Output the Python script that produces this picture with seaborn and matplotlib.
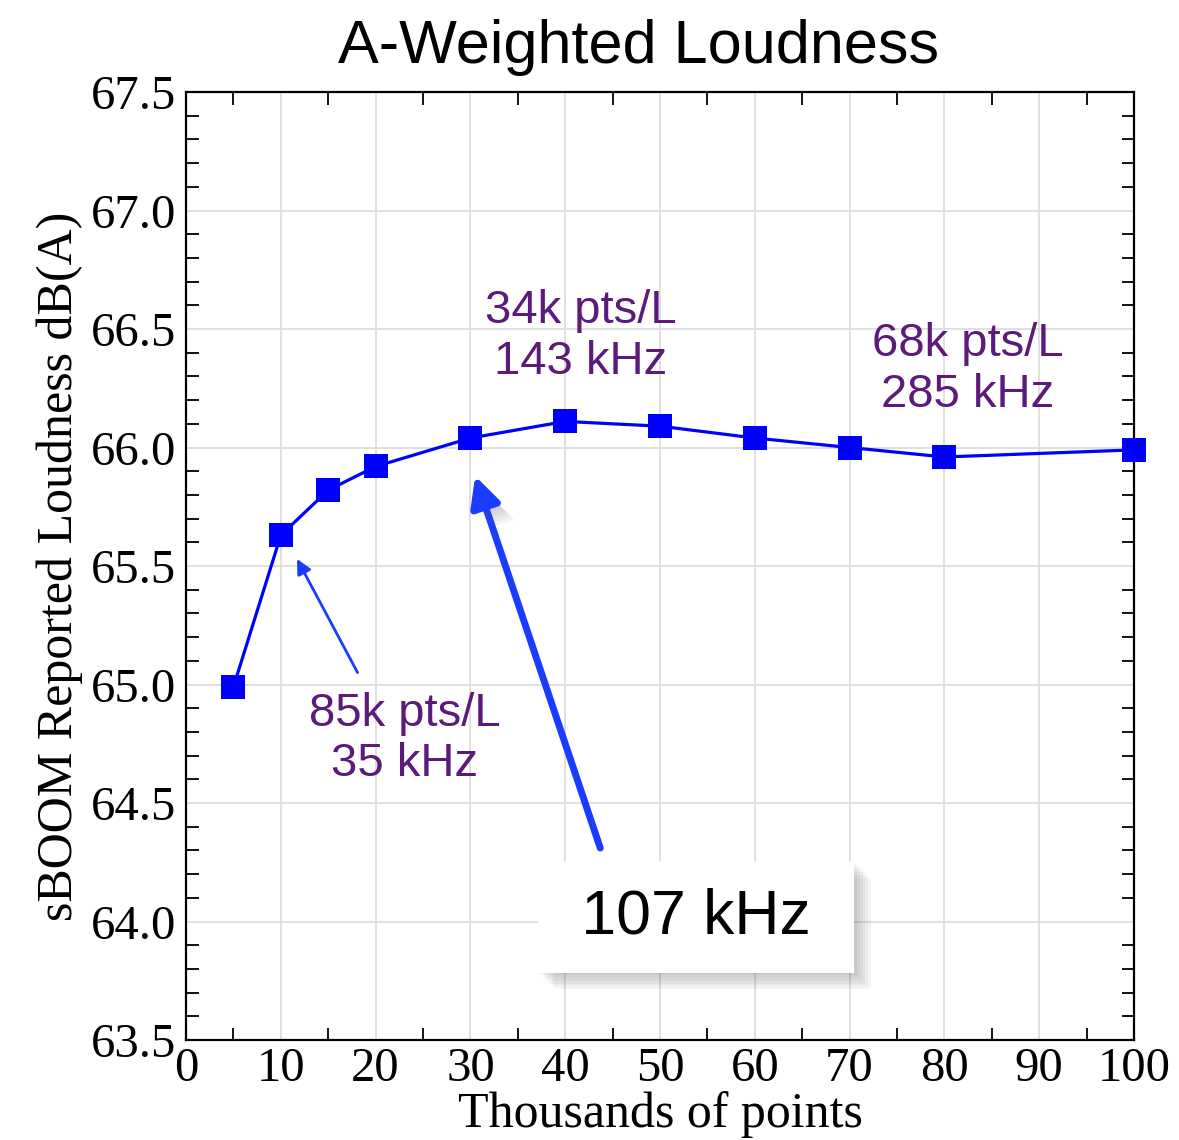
import matplotlib
matplotlib.use("Agg")
import matplotlib.pyplot as plt
import matplotlib.patheffects as pe
from matplotlib.ticker import MultipleLocator, FormatStrFormatter
import pandas as pd
import seaborn as sns

# data
points_k = [5, 10, 15, 20, 30, 40, 50, 60, 70, 80, 100]
loudness_dba = [64.99, 65.63, 65.82, 65.92, 66.04, 66.11, 66.09, 66.04, 66.00, 65.96, 65.99]

labels = ["85k pts/L\n35 kHz", "34k pts/L\n143 kHz", "68k pts/L\n285 kHz"]
label_x = [23.1, 41.6, 82.5]
label_y = [64.77, 66.47, 66.33]

df = pd.DataFrame({"points": points_k, "loudness": loudness_dba})

sns.set_style("ticks")
serif = ["Liberation Serif", "DejaVu Serif"]
sans = ["Liberation Sans", "DejaVu Sans"]
plt.rcParams["font.family"] = serif
plt.rcParams["text.color"] = "black"
plt.rcParams["axes.labelcolor"] = "black"


def soft_shadow(step=2, n=5, alpha=0.07):
    # crude blurred shadow: several offset copies with low alpha
    effects = [pe.SimplePatchShadow(offset=(step * i, -step * i),
                                    shadow_rgbFace="#555555", alpha=alpha)
               for i in range(1, n + 1)]
    return effects + [pe.Normal()]


fig = plt.figure(figsize=(11.79, 11.40), dpi=100)
ax = fig.add_axes([0.1578, 0.0877, 0.804, 0.8316])

sns.lineplot(data=df, x="points", y="loudness", ax=ax, color="#0000ff",
             linewidth=2.3, marker="s", markersize=17, markeredgewidth=0,
             zorder=5, clip_on=False)

ax.set_xlim(0, 100)
ax.set_ylim(63.5, 67.5)
ax.xaxis.set_major_locator(MultipleLocator(10))
ax.xaxis.set_minor_locator(MultipleLocator(5))
ax.yaxis.set_major_locator(MultipleLocator(0.5))
ax.yaxis.set_minor_locator(MultipleLocator(0.1))
ax.yaxis.set_major_formatter(FormatStrFormatter("%.1f"))
ax.grid(True, which="major", color="#dddddd", linewidth=1.3, zorder=0)
ax.tick_params(which="both", direction="in", top=True, right=True,
               labelsize=35, colors="black")
ax.tick_params(which="major", length=0)
ax.tick_params(axis="y", which="major", pad=7)
ax.tick_params(axis="x", which="major", pad=5)
ax.tick_params(which="minor", length=9, width=1.3)
for s in ax.spines.values():
    s.set_linewidth(1.6)
    s.set_color("black")

ax.set_xlabel("Thousands of points", fontsize=36, labelpad=0)
ax.set_ylabel("sBOOM Reported Loudness dB(A)", fontsize=36, labelpad=6)
fig.text(0.542, 0.958, "A-Weighted Loudness", ha="center", va="center",
         fontsize=44, family=sans, color="black")

for txt, x, y in zip(labels, label_x, label_y):
    ax.text(x, y, txt, ha="center", va="center", fontsize=34, family=sans,
            color="#5c1a7b", linespacing=1.2, zorder=6)

# small arrow to the 10k point
ax.annotate("", xy=(11.7, 65.53), xytext=(18.1, 65.05),
            arrowprops=dict(arrowstyle="-|>", color="#1a3cff", lw=2,
                            mutation_scale=22, shrinkA=0, shrinkB=0), zorder=6)

# big arrow to the 30k point, with a shadow
big = ax.annotate("", xy=(30.5, 65.88), xytext=(43.7, 64.31),
                  arrowprops=dict(arrowstyle="-|>", color="#1a3cff", lw=5,
                                  mutation_scale=45, shrinkA=0, shrinkB=0),
                  zorder=7)
big.arrow_patch.set_path_effects(soft_shadow(step=2, n=6, alpha=0.06))

box = ax.text(53.8, 64.02, " 107 kHz ", ha="center", va="center", fontsize=45,
              family=sans, color="black", zorder=8,
              bbox=dict(boxstyle="square,pad=0.42", fc="white", ec="none"))
box.get_bbox_patch().set_path_effects(soft_shadow(step=2, n=6, alpha=0.06))

fig.savefig("out.png", dpi=100)
